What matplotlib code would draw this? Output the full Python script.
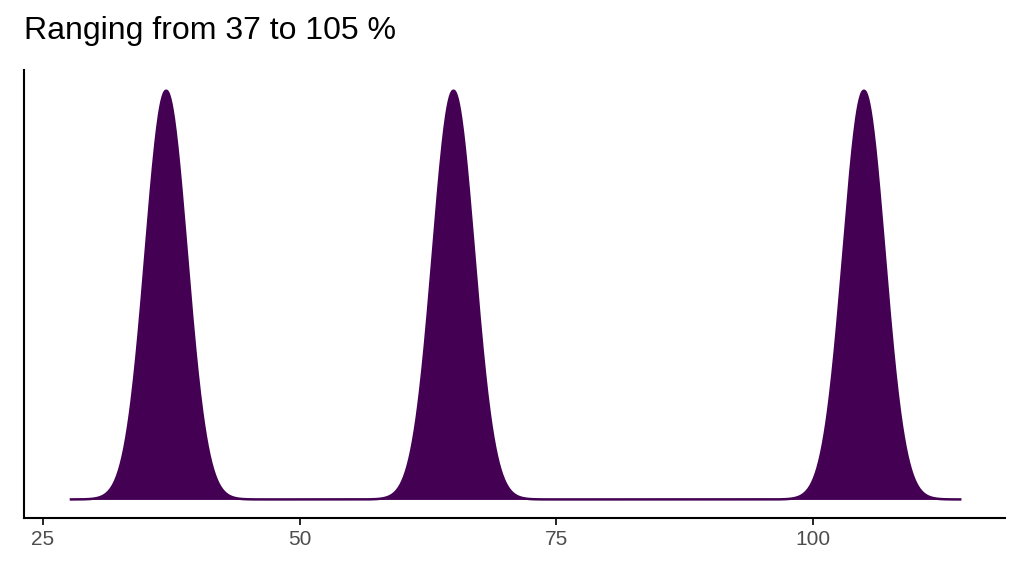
import numpy as np
import matplotlib
matplotlib.use("Agg")
import matplotlib.pyplot as plt

plt.rcParams["font.family"] = ["Liberation Sans", "DejaVu Sans"]

# observed values and kernel bandwidth
values = [37, 65, 105]
bandwidth = 2.0
x_start, x_end = 27.6, 114.5
title = "Ranging from 37 to 105 %"
x_ticks = [25, 50, 75, 100]

vals = np.array(values, dtype=float)
x = np.linspace(x_start, x_end, 1500)
dens = np.exp(-0.5 * ((x[:, None] - vals[None, :]) / bandwidth) ** 2).sum(axis=1)
dens /= len(vals) * bandwidth * np.sqrt(2 * np.pi)

fig = plt.figure(figsize=(10.24, 5.76), dpi=100)
ax = fig.add_axes([0.023, 0.101, 0.958, 0.777])
ax.fill_between(x, 0, dens, color="#440154", linewidth=0)
ax.plot(x, dens, color="#440154", linewidth=1.8, solid_capstyle="butt")

M = dens.max()
ax.set_ylim(-0.045 * M, 1.05 * M)
ax.set_xlim(23.1, 118.7)
ax.set_xticks(x_ticks)
ax.set_yticks([])
for s in ["top", "right"]:
    ax.spines[s].set_visible(False)
for s in ["left", "bottom"]:
    ax.spines[s].set_linewidth(1.5)
ax.tick_params(axis="x", labelsize=15, labelcolor="#4d4d4d", color="black", length=5, width=1.2)
fig.text(0.023, 0.92, title, fontsize=23, ha="left", va="bottom")

fig.savefig("out.png", dpi=100)
